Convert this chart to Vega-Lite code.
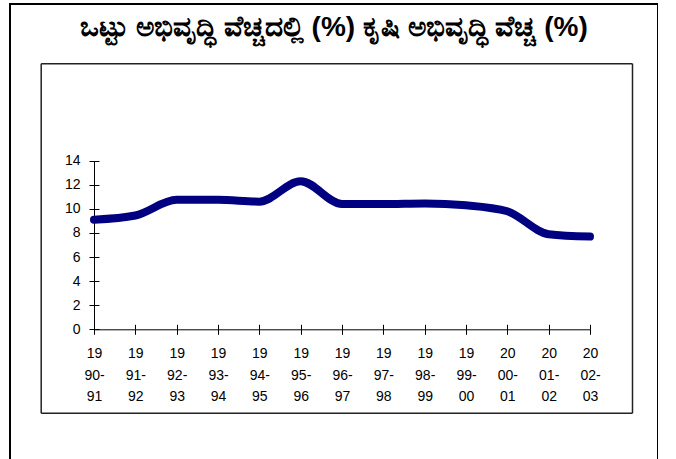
{
  "$schema": "https://vega.github.io/schema/vega-lite/v6.json",
  "width": 648,
  "height": 500,
  "autosize": {"type": "none"},
  "padding": {"left": 10, "top": 4, "right": 0, "bottom": 0},
  "background": "white",
  "config": {
    "view": {"stroke": "#000000", "strokeWidth": 2},
    "font": "Liberation Sans",
    "axis": {"labelFont": "Liberation Sans", "labelColor": "#000000", "labelFontSize": 14, "grid": false, "title": null}
  },
  "title": {
    "text": "ಒಟ್ಟು ಅಭಿವೃದ್ಧಿ ವೆಚ್ಚದಲ್ಲಿ (%) ಕೃಷಿ ಅಭಿವೃದ್ಧಿ ವೆಚ್ಚ (%)",
    "fontSize": 28,
    "fontWeight": "bold",
    "color": "#000000",
    "frame": "group",
    "anchor": "middle",
    "baseline": "middle",
    "offset": -28,
    "dy": 24
  },
  "data": {
    "values": [
      {"period": "1990-91", "value": 9.1},
      {"period": "1991-92", "value": 9.45},
      {"period": "1992-93", "value": 10.75},
      {"period": "1993-94", "value": 10.75},
      {"period": "1994-95", "value": 10.6},
      {"period": "1995-96", "value": 12.3},
      {"period": "1996-97", "value": 10.4},
      {"period": "1997-98", "value": 10.4},
      {"period": "1998-99", "value": 10.45},
      {"period": "1999-00", "value": 10.3},
      {"period": "2000-01", "value": 9.8},
      {"period": "2001-02", "value": 7.9},
      {"period": "2002-03", "value": 7.7}
    ]
  },
  "layer": [
    {
      "layer": [
        {
          "mark": {"type": "line", "color": "#000080", "strokeWidth": 8, "strokeCap": "round", "strokeJoin": "round", "interpolate": "monotone"},
          "encoding": {
            "x": {
              "field": "period", "type": "ordinal", "sort": null,
              "scale": {"type": "point", "range": [84, 580], "padding": 0},
              "axis": {
                "orient": "bottom", "offset": -174.7,
                "domainColor": "#000000", "domainWidth": 1, "tickColor": "#000000", "tickSize": 5,
                "labelAngle": 0, "labelPadding": 19, "labelLineHeight": 21.8, "labelBaseline": "middle",
                "labelExpr": "[substring(datum.label,0,2), substring(datum.label,2,5), substring(datum.label,5,7)]"
              }
            },
            "y": {
              "field": "value", "type": "quantitative",
              "scale": {"domain": [0, 14], "range": [325.3, 156.7], "nice": false, "zero": false},
              "axis": {
                "orient": "left", "offset": -84, "values": [0, 2, 4, 6, 8, 10, 12, 14],
                "domainColor": "#000000", "domainWidth": 1, "tickColor": "#000000", "tickSize": 5,
                "labelPadding": 9
              }
            }
          }
        },
        {
          "mark": {"type": "point", "opacity": 0},
          "encoding": {
            "x": {
              "field": "period", "type": "ordinal", "sort": null,
              "axis": {"orient": "bottom", "offset": -174.7, "domain": false, "labels": false,
                "tickColor": "#000000", "tickSize": -5}
            },
            "y": {
              "field": "value", "type": "quantitative",
              "axis": {"orient": "left", "offset": -84, "values": [0, 2, 4, 6, 8, 10, 12, 14], "domain": false, "labels": false,
                "tickColor": "#000000", "tickSize": -5}
            }
          }
        }
      ],
      "resolve": {"axis": {"x": "independent", "y": "independent"}}
    },
    {
      "mark": {"type": "point", "opacity": 0},
      "encoding": {
        "x": {"datum": 0, "type": "quantitative", "scale": {"domain": [0, 1], "range": [30.7, 622]},
          "axis": {"orient": "top", "offset": -59.3, "ticks": false, "labels": false, "domainColor": "#222222", "domainWidth": 1.5}},
        "y": {"datum": 0, "type": "quantitative", "scale": {"domain": [0, 1], "range": [408.7, 59.3]},
          "axis": {"orient": "left", "offset": -30.7, "ticks": false, "labels": false, "domainColor": "#222222", "domainWidth": 1.5}}
      }
    },
    {
      "mark": {"type": "point", "opacity": 0},
      "encoding": {
        "x": {"datum": 0, "type": "quantitative", "scale": {"domain": [0, 1], "range": [30.7, 622]},
          "axis": {"orient": "bottom", "offset": -91.3, "ticks": false, "labels": false, "domainColor": "#222222", "domainWidth": 1.5}},
        "y": {"datum": 0, "type": "quantitative", "scale": {"domain": [0, 1], "range": [408.7, 59.3]},
          "axis": {"orient": "right", "offset": -26, "ticks": false, "labels": false, "domainColor": "#222222", "domainWidth": 1.5}}
      }
    }
  ],
  "resolve": {
    "scale": {"x": "independent", "y": "independent"},
    "axis": {"x": "independent", "y": "independent"}
  }
}
